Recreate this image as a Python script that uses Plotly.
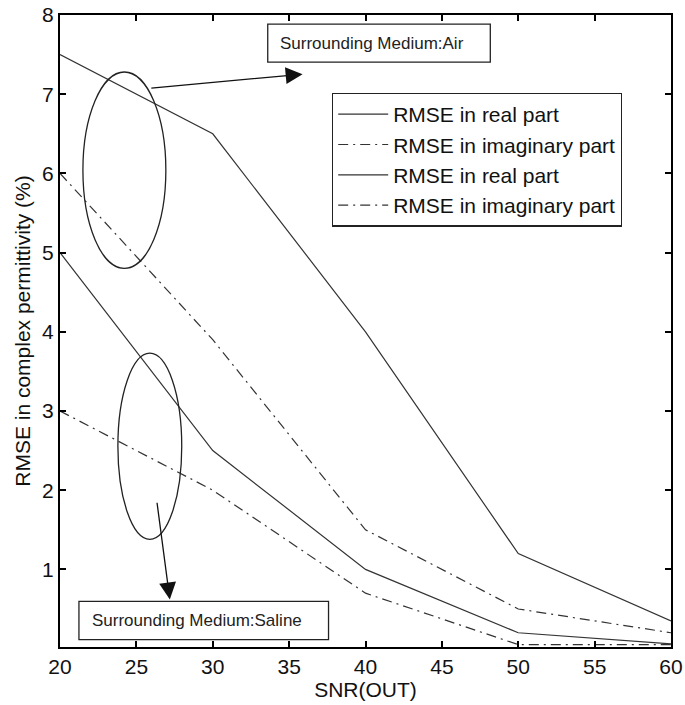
import plotly.graph_objects as go

# SNR values (dB) and RMSE results (%)
snr = [20, 30, 40, 50, 60]
air_real = [7.5, 6.5, 4.0, 1.2, 0.35]
air_imag = [6.0, 3.9, 1.5, 0.5, 0.2]
saline_real = [5.0, 2.5, 1.0, 0.2, 0.06]
saline_imag = [3.0, 2.0, 0.7, 0.05, 0.05]

x_ticks = [20, 25, 30, 35, 40, 45, 50, 55, 60]
y_ticks = [1, 2, 3, 4, 5, 6, 7, 8]

FONT = "Liberation Sans, Arial, sans-serif"
LINE_COLOR = "#333333"
DASHDOT = "10px,5px,2px,5px"

fig = go.Figure()

series = [
    ("RMSE in real part", air_real, "solid"),
    ("RMSE in imaginary part", air_imag, DASHDOT),
    ("RMSE in real part", saline_real, "solid"),
    ("RMSE in imaginary part", saline_imag, DASHDOT),
]
for name, vals, dash in series:
    fig.add_trace(go.Scatter(
        x=snr, y=vals, mode="lines", name=name,
        line=dict(color=LINE_COLOR, width=1.2, dash=dash),
    ))

# Ellipses grouping each medium's curves
fig.add_shape(type="circle", xref="x", yref="y", x0=21.5, x1=26.93, y0=4.80, y1=7.28,
              line=dict(color="#222", width=1.3))
fig.add_shape(type="circle", xref="x", yref="y", x0=23.79, x1=27.97, y0=1.38, y1=3.73,
              line=dict(color="#222", width=1.3))

# Label boxes
fig.add_shape(type="rect", xref="x", yref="y", x0=33.6, x1=48.17, y0=7.405, y1=7.886,
              line=dict(color="#222", width=1.3), fillcolor="white")
fig.add_shape(type="rect", xref="x", yref="y", x0=21.24, x1=37.58, y0=0.114, y1=0.595,
              line=dict(color="#222", width=1.3), fillcolor="white")

fig.add_annotation(x=34.25, y=7.645, xref="x", yref="y", text="Surrounding Medium:Air",
                   showarrow=False, xanchor="left", yanchor="middle",
                   font=dict(family=FONT, size=17, color="#222"))
fig.add_annotation(x=21.96, y=0.355, xref="x", yref="y", text="Surrounding Medium:Saline",
                   showarrow=False, xanchor="left", yanchor="middle",
                   font=dict(family=FONT, size=17, color="#222"))

# Arrows from ellipses toward labels
fig.add_annotation(x=35.88, y=7.253, ax=25.88, ay=7.076, xref="x", yref="y",
                   axref="x", ayref="y", text="", showarrow=True,
                   arrowhead=2, arrowsize=2.6, arrowwidth=1.3, arrowcolor="#111")
fig.add_annotation(x=27.19, y=0.62, ax=26.34, ay=1.86, xref="x", yref="y",
                   axref="x", ayref="y", text="", showarrow=True,
                   arrowhead=2, arrowsize=2.6, arrowwidth=1.3, arrowcolor="#111")

axis_common = dict(
    showgrid=False, zeroline=False, showline=True, linecolor="black", linewidth=2,
    mirror="ticks", ticks="inside", ticklen=6, tickwidth=1.5, tickcolor="black",
    tickfont=dict(family=FONT, size=21, color="#111"), automargin=False,
)

fig.update_xaxes(range=[20, 60], tickvals=x_ticks,
                 title=dict(text="SNR(OUT)", font=dict(family=FONT, size=21, color="#111"),
                            standoff=2),
                 **axis_common)
fig.update_yaxes(range=[0.02, 8], tickvals=y_ticks,
                 title=dict(text="RMSE in complex permittivity (%)",
                            font=dict(family=FONT, size=21, color="#111"), standoff=6),
                 **axis_common)

fig.update_layout(
    width=685, height=705,
    margin=dict(l=60, r=14, t=15, b=58),
    plot_bgcolor="white", paper_bgcolor="white",
    font=dict(family=FONT, color="#111"),
    legend=dict(
        x=0.445, y=0.877, xanchor="left", yanchor="top",
        bgcolor="white", bordercolor="#222", borderwidth=1.3,
        font=dict(family=FONT, size=21, color="#111"),
        tracegroupgap=0, itemwidth=50,
    ),
)

fig.write_html("out.html")
